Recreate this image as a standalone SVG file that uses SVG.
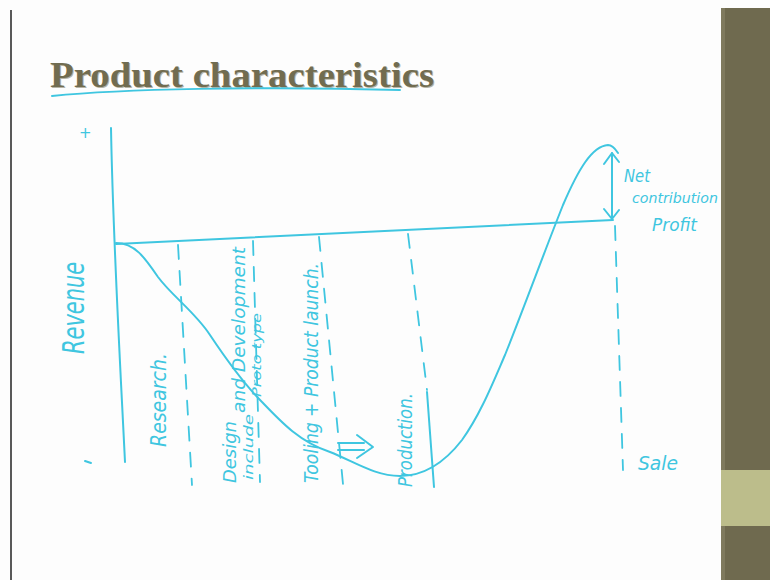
<svg xmlns="http://www.w3.org/2000/svg" width="770" height="580" viewBox="0 0 770 580">
  <defs>
    <style>
      .ink { fill: none; stroke: #3fc6e0; stroke-width: 2; stroke-linecap: round; stroke-linejoin: round; }
      .dash { fill: none; stroke: #3fc6e0; stroke-width: 1.8; stroke-linecap: round; stroke-dasharray: 14 12; }
      .hand { font-family: "DejaVu Sans", "Liberation Sans", sans-serif; font-style: italic; fill: #3fc6e0; }
      .title { font-family: "Liberation Serif", "DejaVu Serif", serif; font-weight: bold; font-size: 35px; fill: #716c50; }
    </style>
  </defs>

  <!-- slide background -->
  <rect x="0" y="0" width="770" height="580" fill="#fdfdfd"/>
  <line x1="11" y1="10" x2="11" y2="580" stroke="#222" stroke-width="1.5"/>

  <!-- right side panel -->
  <rect x="721" y="8" width="49" height="572" fill="#6f6a4f"/>
  <rect x="721" y="8" width="4" height="572" fill="#7f7a5e"/>
  <rect x="721" y="470" width="49" height="56" fill="#bcbd8b"/>

  <!-- title -->
  <text class="title" x="51" y="88" textLength="384" lengthAdjust="spacingAndGlyphs" fill="#dcd9cf" opacity="0.5">Product characteristics</text>
  <text class="title" x="50" y="87" textLength="384" lengthAdjust="spacingAndGlyphs">Product characteristics</text>
  <path class="ink" d="M52,96 C120,89 260,86 400,90" stroke-width="2.2"/>

  <!-- axes -->
  <path class="ink" d="M111,128 C113,240 120,360 125,462"/>
  <path class="ink" d="M116,244 L613,220"/>
  <text class="hand" x="79" y="138" font-size="15" font-style="normal">+</text>
  <path class="ink" d="M85,461 L91,463"/>

  <!-- phase dividers -->
  <path class="dash" d="M178,245 L192,485"/>
  <path class="dash" d="M253,241 L260,482"/>
  <path class="dash" d="M319,237 L343,484"/>
  <path class="dash" d="M408,234 L427,390"/>
  <path class="ink" d="M427,392 L434,487"/>
  <path class="dash" d="M615,226 L623,470"/>

  <!-- revenue curve -->
  <path class="ink" d="M116,243 C135,243 145,258 158,277 C172,296 195,312 210,335 C228,362 245,385 262,402 C282,423 300,442 330,452 C355,462 375,476 400,476 C425,476 445,462 462,440 C480,415 492,385 505,355 C525,305 545,250 563,205 C578,170 592,146 608,145 C613,145 616,150 618,153"/>

  <!-- net contribution arrow -->
  <path class="ink" d="M612,153 L612,219"/>
  <path class="ink" d="M604,164 L612,153 L619,162"/>
  <path class="ink" d="M604,209 L612,219 L619,210"/>

  <!-- double arrow -->
  <path class="ink" d="M338,443 L364,443 M338,450 L364,450 M357,435 L373,447 L357,458" stroke-width="1.8"/>

  <!-- labels -->
  <text class="hand" font-size="30" font-style="normal" text-anchor="middle" dominant-baseline="central" textLength="92" lengthAdjust="spacingAndGlyphs" transform="translate(73,308) rotate(-90)">Revenue</text>
  <text class="hand" font-size="22" text-anchor="middle" dominant-baseline="central" textLength="94" lengthAdjust="spacingAndGlyphs" transform="translate(158,400) rotate(-90)">Research.</text>
  <text class="hand" font-size="18" text-anchor="middle" dominant-baseline="central" textLength="62" lengthAdjust="spacingAndGlyphs" transform="translate(229,452) rotate(-90)">Design</text>
  <text class="hand" font-size="13" text-anchor="middle" dominant-baseline="central" textLength="66" lengthAdjust="spacingAndGlyphs" transform="translate(248,447) rotate(-90)">include</text>
  <text class="hand" font-size="18" text-anchor="middle" dominant-baseline="central" textLength="166" lengthAdjust="spacingAndGlyphs" transform="translate(238,330) rotate(-90)">and Development</text>
  <text class="hand" font-size="13" text-anchor="middle" dominant-baseline="central" textLength="84" lengthAdjust="spacingAndGlyphs" transform="translate(256,355) rotate(-90)">Proto type</text>
  <text class="hand" font-size="20" text-anchor="middle" dominant-baseline="central" textLength="220" lengthAdjust="spacingAndGlyphs" transform="translate(311,373) rotate(-90)">Tooling + Product launch.</text>
  <text class="hand" font-size="20" text-anchor="middle" dominant-baseline="central" textLength="94" lengthAdjust="spacingAndGlyphs" transform="translate(405,440) rotate(-90)">Production.</text>

  <text class="hand" x="624" y="182" font-size="17" textLength="26" lengthAdjust="spacingAndGlyphs">Net</text>
  <text class="hand" x="632" y="203" font-size="14" textLength="86" lengthAdjust="spacingAndGlyphs">contribution</text>
  <text class="hand" x="652" y="231" font-size="17" textLength="45" lengthAdjust="spacingAndGlyphs">Profit</text>
  <text class="hand" x="638" y="470" font-size="20" textLength="40" lengthAdjust="spacingAndGlyphs">Sale</text>
</svg>
